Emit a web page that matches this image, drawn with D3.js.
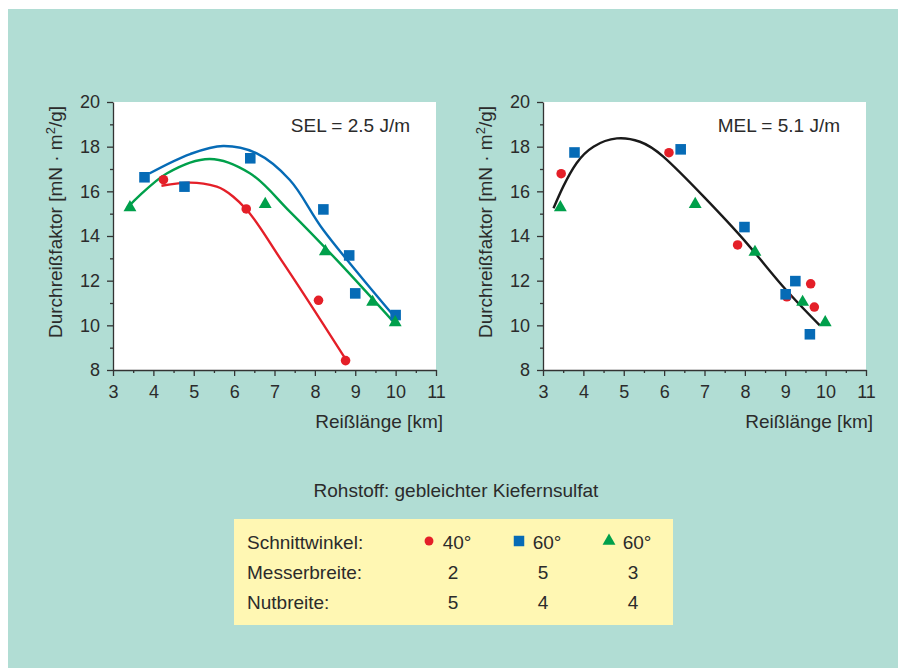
<!DOCTYPE html>
<html>
<head>
<meta charset="utf-8">
<script src="https://cdn.jsdelivr.net/npm/d3@7"></script>
<style>
    body { margin: 0; background: #ffffff; }
    text { font-family: "Liberation Sans", Arial, sans-serif; fill: #2b2b2b; }
</style>
</head>
<body>
<script>
const xTicks = [3, 4, 5, 6, 7, 8, 9, 10, 11];
const yTicks = [8, 10, 12, 14, 16, 18, 20];

// SEL = 2.5 J/m (links)
const selRed = [[4.25, 16.52], [6.30, 15.21], [8.09, 11.12], [8.76, 8.42]];
const selBlue = [[3.78, 16.63], [4.77, 16.21], [6.40, 17.48], [8.21, 15.19], [8.85, 13.13], [9.00, 11.43], [10.00, 10.46]];
const selGreen = [[3.42, 15.28], [6.77, 15.42], [8.26, 13.31], [9.43, 11.04], [9.99, 10.13]];
const selRedFit = [[4.20, 16.25], [4.91, 16.39], [5.57, 16.21], [5.98, 15.76], [6.30, 15.20], [7.14, 13.00], [8.75, 8.52]];
const selBlueFit = [[3.90, 16.80], [4.91, 17.67], [5.73, 18.03], [6.56, 17.70], [7.38, 16.51], [8.21, 14.27], [9.94, 10.46]];
const selGreenFit = [[3.34, 15.24], [4.33, 16.80], [5.40, 17.45], [6.39, 16.81], [7.38, 15.09], [8.54, 12.93], [9.98, 10.09]];

// MEL = 5.1 J/m (rechts)
const melRed = [[3.45, 16.79], [6.12, 17.73], [7.82, 13.60], [9.04, 11.28], [9.63, 11.86], [9.72, 10.82]];
const melBlue = [[3.78, 17.74], [6.41, 17.88], [7.99, 14.40], [9.01, 11.39], [9.25, 11.98], [9.61, 9.60]];
const melGreen = [[3.43, 15.28], [6.77, 15.42], [8.25, 13.28], [9.43, 11.04], [9.99, 10.13]];
const melFit = [[3.26, 15.24], [3.50, 16.21], [3.83, 17.26], [4.25, 18.00], [4.83, 18.37], [5.40, 18.22], [5.98, 17.55], [6.98, 15.76], [8.05, 13.67], [8.95, 11.73], [9.85, 10.01]];

const legendRows = ["Schnittwinkel:", "Messerbreite:", "Nutbreite:"];
const legendAngles = ["40°", "60°", "60°"];
const legendMesser = ["2", "5", "3"];
const legendNut = ["5", "4", "4"];

const red = "#e41f28";
const blue = "#066bb6";
const green = "#00a04b";

const svg = d3.select("body")
    .append("svg")
    .attr("width", 898)
    .attr("height", 668);

svg.append("rect")
    .attr("x", 8)
    .attr("y", 9)
    .attr("width", 890)
    .attr("height", 659)
    .attr("fill", "#b1ddd4");

function drawPanel(left, label, series, fits) {
    const width = 323;
    const height = 268;
    const top = 102;

    const g = svg.append("g")
        .attr("transform", `translate(${left},${top})`);

    const x = d3.scaleLinear().domain([3, 11]).range([0, width]);
    const y = d3.scaleLinear().domain([8, 20]).range([height, 0]);

    g.append("rect")
        .attr("width", width)
        .attr("height", height)
        .attr("fill", "white");

    // kleine Ticks
    g.append("g")
        .attr("transform", `translate(0,${height})`)
        .call(d3.axisBottom(x).tickValues(d3.range(3.5, 11, 1)).tickSize(3).tickFormat(""))
        .call(a => a.select(".domain").remove());
    g.append("g")
        .call(d3.axisLeft(y).tickValues(d3.range(9, 20, 2)).tickSize(3).tickFormat(""))
        .call(a => a.select(".domain").remove());

    g.append("g")
        .attr("transform", `translate(0,${height})`)
        .call(d3.axisBottom(x).tickValues(xTicks).tickSize(6).tickSizeOuter(0).tickPadding(9));
    g.append("g")
        .call(d3.axisLeft(y).tickValues(yTicks).tickSize(6).tickSizeOuter(0).tickPadding(7));

    g.selectAll(".tick line, .domain")
        .attr("stroke", "#333")
        .attr("stroke-width", 1.3);
    g.selectAll(".tick text")
        .style("font-size", "18px")
        .attr("fill", "#2b2b2b");

    g.append("text")
        .attr("x", 330)
        .attr("y", 326)
        .attr("text-anchor", "end")
        .style("font-size", "19px")
        .text("Reißlänge [km]");

    const yl = g.append("text")
        .attr("transform", `translate(-51,${height / 2 - 14}) rotate(-90)`)
        .attr("text-anchor", "middle")
        .style("font-size", "19px");
    yl.append("tspan").text("Durchreißfaktor [mN · m");
    yl.append("tspan").attr("dy", -7).style("font-size", "13px").text("2");
    yl.append("tspan").attr("dy", 7).text("/g]");

    g.append("text")
        .attr("x", 297)
        .attr("y", 30)
        .attr("text-anchor", "end")
        .style("font-size", "19px")
        .text(label);

    fits.forEach(f => {
        const line = d3.line()
            .x(d => x(d[0]))
            .y(d => y(d[1]))
            .curve(f.curve);

        g.append("path")
            .datum(f.data)
            .attr("fill", "none")
            .attr("stroke", f.color)
            .attr("stroke-width", 2.4)
            .attr("d", line);
    });

    series.forEach(s => {
        g.selectAll(null)
            .data(s.data)
            .join("path")
            .attr("transform", d => `translate(${x(d[0])},${y(d[1])})`)
            .attr("fill", s.color)
            .attr("d", d3.symbol().type(s.type).size(s.size));
    });
}

drawPanel(113, "SEL = 2.5 J/m", [
    { data: selRed, color: red, type: d3.symbolCircle, size: 72 },
    { data: selBlue, color: blue, type: d3.symbolSquare, size: 112 },
    { data: selGreen, color: green, type: d3.symbolTriangle, size: 72 }
], [
    { data: selRedFit, color: red, curve: d3.curveMonotoneX },
    { data: selGreenFit, color: green, curve: d3.curveCatmullRom },
    { data: selBlueFit, color: blue, curve: d3.curveCatmullRom }
]);

drawPanel(543, "MEL = 5.1 J/m", [
    { data: melRed, color: red, type: d3.symbolCircle, size: 72 },
    { data: melBlue, color: blue, type: d3.symbolSquare, size: 112 },
    { data: melGreen, color: green, type: d3.symbolTriangle, size: 72 }
], [
    { data: melFit, color: "#1a1a1a", curve: d3.curveNatural }
]);

svg.append("text")
    .attr("x", 456)
    .attr("y", 497)
    .attr("text-anchor", "middle")
    .style("font-size", "19px")
    .text("Rohstoff: gebleichter Kiefernsulfat");

// Legende
const legend = svg.append("g");

legend.append("rect")
    .attr("x", 234)
    .attr("y", 519)
    .attr("width", 439)
    .attr("height", 106)
    .attr("fill", "#fff7b3");

legendRows.forEach((r, i) => {
    legend.append("text")
        .attr("x", 247)
        .attr("y", 549 + i * 30)
        .style("font-size", "19px")
        .text(r);
});

const colX = [455, 545, 635];
const symbols = [
    { type: d3.symbolCircle, color: red, size: 62 },
    { type: d3.symbolSquare, color: blue, size: 110 },
    { type: d3.symbolTriangle, color: green, size: 72 }
];

symbols.forEach((s, i) => {
    legend.append("path")
        .attr("transform", `translate(${colX[i] - 26},${541})`)
        .attr("fill", s.color)
        .attr("d", d3.symbol().type(s.type).size(s.size));

    legend.append("text")
        .attr("x", colX[i] + 2)
        .attr("y", 549)
        .attr("text-anchor", "middle")
        .style("font-size", "19px")
        .text(legendAngles[i]);

    legend.append("text")
        .attr("x", colX[i] - 2)
        .attr("y", 579)
        .attr("text-anchor", "middle")
        .style("font-size", "19px")
        .text(legendMesser[i]);

    legend.append("text")
        .attr("x", colX[i] - 2)
        .attr("y", 609)
        .attr("text-anchor", "middle")
        .style("font-size", "19px")
        .text(legendNut[i]);
});
</script>
</body>
</html>
